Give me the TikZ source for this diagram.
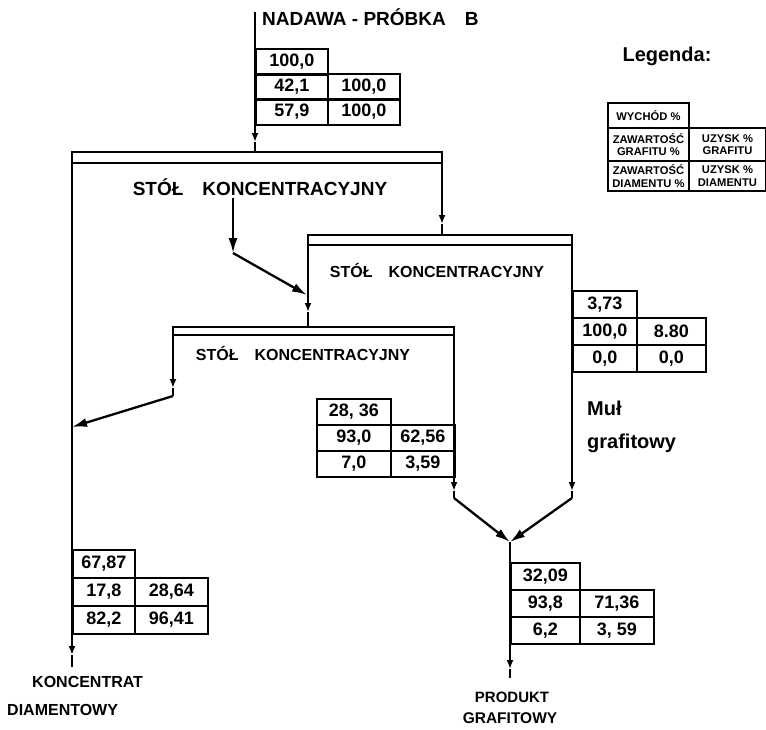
\documentclass[tikz,border=0pt]{standalone}
\usepackage{fontspec}
\setmainfont{Liberation Sans}
\usetikzlibrary{arrows.meta}

\begin{document}
\begin{tikzpicture}[x=1pt,y=-1pt,
  line/.style={line width=2.3pt},
  cell/.style={draw,line width=1.9pt,anchor=north west,inner sep=0pt,
    minimum height=26pt,font=\fontsize{18}{20}\selectfont\bfseries},
  legcell/.style={cell,font=\fontsize{11.2}{12.5}\selectfont\bfseries,align=center},
  tick/.style={line,-{Latex[length=9pt,width=7pt]}},
  flow/.style={line,-{Latex[length=15pt,width=9pt]}},
  title/.style={font=\fontsize{19}{22}\selectfont\bfseries,inner sep=0pt},
  lab/.style={font=\fontsize{16}{19}\selectfont\bfseries,inner sep=0pt}]
  \useasboundingbox (0,0) rectangle (766,729);
  % punkty schematu
  \coordinate (wej)  at (255,12);
  \coordinate (wejT) at (255,142);
  \coordinate (r1w)  at (255,152);
  \coordinate (r1a)  at (72,152);
  \coordinate (r1b)  at (442,163);
  \coordinate (r1p)  at (442,152);
  \coordinate (r1T)  at (442,224);
  \coordinate (r2a)  at (308,235);
  \coordinate (r2b)  at (572,245);
  \coordinate (r2p)  at (572,235);
  \coordinate (r2T)  at (308,312);
  \coordinate (r3a)  at (173,327);
  \coordinate (r3b)  at (454,335);
  \coordinate (r3p)  at (454,327);
  \coordinate (r3T)  at (173,388);
  \coordinate (r3K)  at (173,396);
  \coordinate (dW)   at (72,427);
  \coordinate (dT)   at (72,655);
  \coordinate (dK)   at (72,667);
  \coordinate (mT)   at (572,491);
  \coordinate (mK)   at (572,498);
  \coordinate (gT)   at (454,491);
  \coordinate (gK)   at (454,498);
  \coordinate (zb)   at (510,542);
  \coordinate (pT)   at (510,669);
  \coordinate (pK)   at (510,678);
  \coordinate (s1)   at (233,198);
  \coordinate (s1z)  at (233,253);
  \coordinate (s1k)  at (307,295);
  % napisy
  \node[title,anchor=west] (nadawa) at (262,17) {NADAWA - PRÓBKA\quad B};
  \node[title] (stol1) at (260,187) {STÓŁ\quad KONCENTRACYJNY};
  \node[lab] (stol2) at (437,270) {STÓŁ\quad KONCENTRACYJNY};
  \node[lab] (stol3) at (303,353) {STÓŁ\quad KONCENTRACYJNY};
  \node[title,anchor=west,font=\fontsize{20}{22}\selectfont\bfseries] (mul) at (587,408) {Muł};
  \node[title,anchor=west,font=\fontsize{20}{22}\selectfont\bfseries] (mulg) at (587,443) {grafitowy};
  \node[lab,anchor=west] (konc) at (32,682) {KONCENTRAT};
  \node[lab,anchor=west] (diam) at (7,710) {DIAMENTOWY};
  \node[lab,font=\fontsize{15}{18}\selectfont\bfseries] (prod) at (512,697) {PRODUKT};
  \node[lab,font=\fontsize{15.5}{18}\selectfont\bfseries] (graf) at (510,718) {GRAFITOWY};
  \node[title,font=\fontsize{20}{22}\selectfont\bfseries] (leg) at (667,56) {Legenda:};
  % stoly koncentracyjne
  \draw[line] (r1a) rectangle (r1b);
  \draw[line] (r2a) rectangle (r2b);
  \draw[line] (r3a) rectangle (r3b);
  \draw[tick] (wej) -- (wejT);
  \draw[line] (wejT) -- (r1w);
  \draw[tick] (r1a) -- (dT);
  \draw[line] (dT) -- (dK);
  \draw[tick] (r1p) -- (r1T);
  \draw[line] (r1T) -- (r2p -| r1p);
  \draw[tick] (r2a) -- (r2T);
  \draw[line] (r2T) -- (r3a -| r2a);
  \draw[tick] (r2p) -- (mT);
  \draw[line] (mT) -- (mK);
  \draw[tick] (r3a) -- (r3T);
  \draw[line] (r3T) -- (r3K);
  \draw[tick] (r3p) -- (gT);
  \draw[line] (gT) -- (gK);
  \draw[tick] (zb) -- (pT);
  \draw[line] (pT) -- (pK);
  \draw[flow] (s1) -- (s1z);
  \draw[flow] (s1z) -- (s1k);
  \draw[flow] (r3K) -- (dW);
  \draw[flow] (gK) -- (zb);
  \draw[flow] (mK) -- (zb);
  % wyniki: wychod / zawartosc, uzysk
  \node[cell,minimum width=72] (n1a) at (255,48) {100,0};
  \node[cell,minimum width=72] (n1b) at (255,73) {42,1};
  \node[cell,minimum width=72] (n1c) at (327,73) {100,0};
  \node[cell,minimum width=72] (n1d) at (255,98) {57,9};
  \node[cell,minimum width=72] (n1e) at (327,98) {100,0};
  \node[cell,minimum width=62,minimum height=28] (n2a) at (72,549) {67,87};
  \node[cell,minimum width=62,minimum height=28] (n2b) at (72,577) {17,8};
  \node[cell,minimum width=73,minimum height=28] (n2c) at (134,577) {28,64};
  \node[cell,minimum width=62,minimum height=28] (n2d) at (72,605) {82,2};
  \node[cell,minimum width=73,minimum height=28] (n2e) at (134,605) {96,41};
  \node[cell,minimum width=64,minimum height=27] (n3a) at (572,290) {3,73};
  \node[cell,minimum width=64,minimum height=27] (n3b) at (572,317) {100,0};
  \node[cell,minimum width=69,minimum height=27] (n3c) at (636,317) {8.80};
  \node[cell,minimum width=64,minimum height=27] (n3d) at (572,344) {0,0};
  \node[cell,minimum width=69,minimum height=27] (n3e) at (636,344) {0,0};
  \node[cell,minimum width=74] (n4a) at (316,398) {28, 36};
  \node[cell,minimum width=74] (n4b) at (316,424) {93,0};
  \node[cell,minimum width=64] (n4c) at (390,424) {62,56};
  \node[cell,minimum width=74] (n4d) at (316,450) {7,0};
  \node[cell,minimum width=64] (n4e) at (390,450) {3,59};
  \node[cell,minimum width=69,minimum height=27] (n5a) at (510,562) {32,09};
  \node[cell,minimum width=69,minimum height=27] (n5b) at (510,589) {93,8};
  \node[cell,minimum width=74,minimum height=27] (n5c) at (579,589) {71,36};
  \node[cell,minimum width=69,minimum height=27] (n5d) at (510,616) {6,2};
  \node[cell,minimum width=74,minimum height=27] (n5e) at (579,616) {3, 59};
  % legenda
  \node[legcell,minimum width=81,minimum height=25] (lga) at (607,102) {WYCHÓD \%};
  \node[legcell,minimum width=81,minimum height=33] (lgb) at (607,127) {ZAWARTOŚĆ\\GRAFITU \%};
  \node[legcell,minimum width=77,minimum height=33] (lgc) at (688,127) {UZYSK \%\\GRAFITU};
  \node[legcell,minimum width=81,minimum height=30] (lgd) at (607,160) {ZAWARTOŚĆ\\DIAMENTU \%};
  \node[legcell,minimum width=77,minimum height=30] (lge) at (688,160) {UZYSK \%\\DIAMENTU};
\end{tikzpicture}
\end{document}
